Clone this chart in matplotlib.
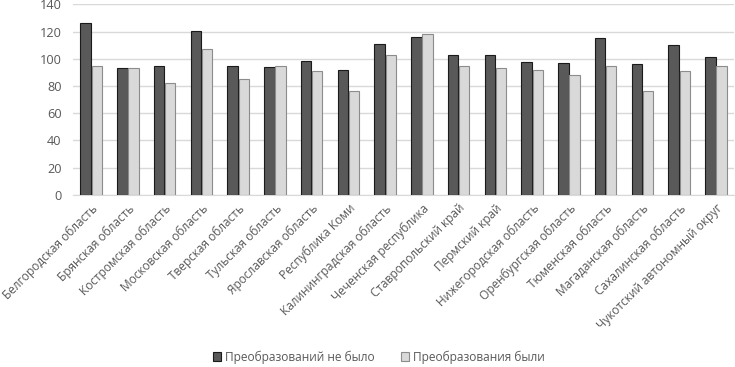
import matplotlib

matplotlib.use("Agg")
import matplotlib.pyplot as plt
import numpy as np

regions = [
    "Белгородская область", "Брянская область", "Костромская область",
    "Московская область", "Тверская область", "Тульская область",
    "Ярославская область", "Республика Коми", "Калининградская область",
    "Чеченская республика", "Ставропольский край", "Пермский край",
    "Нижегородская область", "Оренбургская область", "Тюменская область",
    "Магаданская область", "Сахалинская область", "Чукотский автономный округ",
]
no_change = [126, 93.5, 95, 120.5, 94.5, 94, 98.5, 91.5, 111, 116,
             103, 102.5, 97.5, 97, 115, 96.5, 110, 101.5]
changed = [95, 93, 82, 107, 85, 95, 91, 76.5, 103, 118.5,
           95, 93, 92, 88, 94.5, 76, 91, 94.5]
yticks = [0, 20, 40, 60, 80, 100, 120, 140]

plt.rcParams["font.family"] = ["Open Sans", "DejaVu Sans"]
text_color = "#595959"
fs = 8.6

fig = plt.figure(figsize=(7.35, 3.67), dpi=100)
ax = fig.add_axes([0.099, 0.469, 0.9, 0.519])

x = np.arange(len(regions))
w = 0.28
ax.bar(x - w / 2 - 0.01, no_change, w, color="#595959", edgecolor="#1a1a1a",
       linewidth=0.8, label="Преобразований не было", zorder=3)
ax.bar(x + w / 2 + 0.01, changed, w, color="#d9d9d9", edgecolor="#8c8c8c",
       linewidth=0.8, label="Преобразования были", zorder=3)

ax.set_xlim(-0.5, len(regions) - 0.5)
ax.set_ylim(0, 140)
ax.set_yticks(yticks)
ax.grid(axis="y", color="#d9d9d9", linewidth=1, zorder=0)
for s in ["top", "right", "left"]:
    ax.spines[s].set_visible(False)
ax.spines["bottom"].set_color("#d9d9d9")
ax.tick_params(axis="both", length=0, colors=text_color, labelsize=fs + 0.6)
ax.tick_params(axis="y", pad=8)
ax.tick_params(axis="x", pad=5)
ax.set_xticks(x)
ax.set_xticklabels(regions, rotation=45, ha="right", rotation_mode="anchor",
                   fontsize=fs, color=text_color)

leg = fig.legend(loc="center", bbox_to_anchor=(0.515, 0.027), ncol=2,
                 frameon=False, fontsize=fs, handlelength=0.7,
                 handleheight=0.7, columnspacing=2.2, handletextpad=0.3)
for t in leg.get_texts():
    t.set_color(text_color)

fig.savefig("out.png", dpi=100)
